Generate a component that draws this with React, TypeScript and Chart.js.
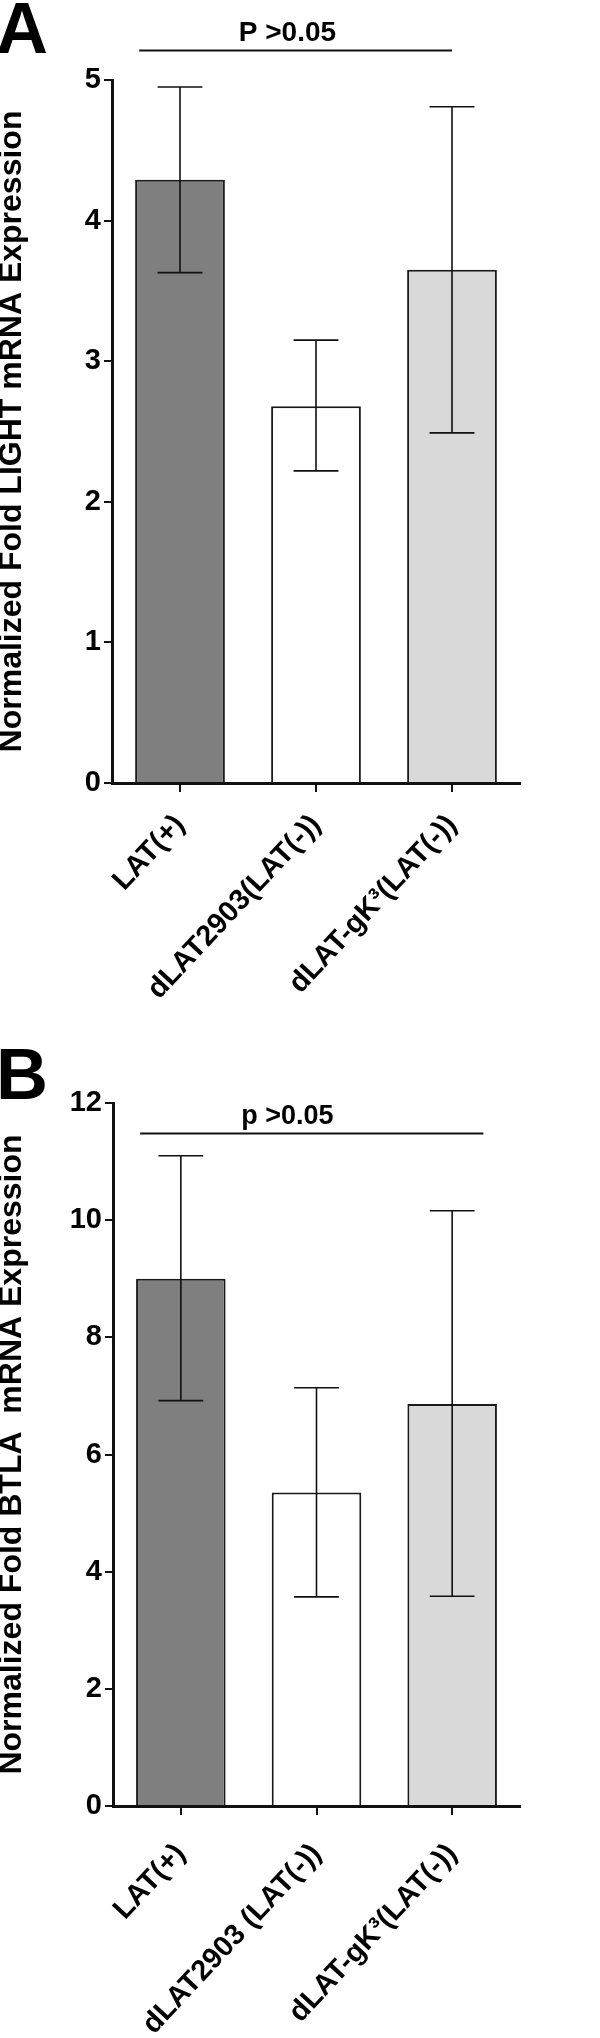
import React, { useEffect, useRef } from "react";
import { Chart, registerables } from "chart.js";

Chart.register(...registerables);

// ---------- Panel A data ----------
const categoriesA = ["LAT(+)", "dLAT2903(LAT(-))", "dLAT-gK\u00B3(LAT(-))"];
const meansA = [4.29, 2.68, 3.65];
const errLowA = [3.63, 2.22, 2.49];
const errHighA = [4.95, 3.15, 4.81];
const yTicksA = [0, 1, 2, 3, 4, 5];
const titleA = "Normalized Fold LIGHT mRNA Expression";
const sigTextA = "P >0.05";

// ---------- Panel B data ----------
const categoriesB = ["LAT(+)", "dLAT2903 (LAT(-))", "dLAT-gK\u00B3(LAT(-))"];
const meansB = [9.0, 5.35, 6.86];
const errLowB = [6.92, 3.57, 3.58];
const errHighB = [11.1, 7.14, 10.16];
const yTicksB = [0, 2, 4, 6, 8, 10, 12];
const titleB = "Normalized Fold BTLA  mRNA Expression";
const sigTextB = "p >0.05";

const barColors = ["#7f7f7f", "#ffffff", "#d9d9d9"];
const FONT = "'Liberation Sans', Arial, Helvetica, sans-serif";

type PanelCfg = {
  letter: string;
  categories: string[];
  means: number[];
  low: number[];
  high: number[];
  yTicks: number[];
  title: string;
  sigText: string;
  sigFrom: number; // category index units
  sigTo: number;
  sigLevel: number; // data value
  sigTextAt: number;
  canvasH: number;
  top: number;
  bottom: number;
  left: number;
  right: number;
  letterBaseline: number;
  sigFont: number;
  labelPad: number;
};

function makePlugin(cfg: PanelCfg) {
  return {
    id: "extras" + cfg.letter,
    afterDatasetsDraw(chart: any) {
      const ctx = chart.ctx;
      const meta = chart.getDatasetMeta(0);
      const y = chart.scales.y;
      ctx.save();
      ctx.strokeStyle = "#111";
      ctx.lineWidth = 1.6;
      meta.data.forEach((bar: any, i: number) => {
        const cx = bar.x;
        const half = bar.width / 4;
        const yl = y.getPixelForValue(cfg.low[i]);
        const yh = y.getPixelForValue(cfg.high[i]);
        ctx.beginPath();
        ctx.moveTo(cx, yl);
        ctx.lineTo(cx, yh);
        ctx.moveTo(cx - half, yl);
        ctx.lineTo(cx + half, yl);
        ctx.moveTo(cx - half, yh);
        ctx.lineTo(cx + half, yh);
        ctx.stroke();
      });
      ctx.restore();
    },
    afterDraw(chart: any) {
      const ctx = chart.ctx;
      const x = chart.scales.x;
      const y = chart.scales.y;
      const step = x.getPixelForValue(1) - x.getPixelForValue(0);
      const x0 = x.getPixelForValue(0);
      ctx.save();
      // significance line
      const ly = y.getPixelForValue(cfg.sigLevel);
      ctx.strokeStyle = "#111";
      ctx.lineWidth = 2;
      ctx.beginPath();
      ctx.moveTo(x0 + cfg.sigFrom * step, ly);
      ctx.lineTo(x0 + cfg.sigTo * step, ly);
      ctx.stroke();
      ctx.fillStyle = "#000";
      ctx.font = `bold ${cfg.sigFont}px ${FONT}`;
      ctx.textAlign = "center";
      ctx.textBaseline = "alphabetic";
      ctx.fillText(cfg.sigText, x0 + cfg.sigTextAt * step, ly - 9);
      // panel letter
      ctx.font = `bold 72px ${FONT}`;
      ctx.textAlign = "left";
      ctx.fillText(cfg.letter, -4, cfg.letterBaseline);
      ctx.restore();
    },
  };
}

function Panel({ cfg }: { cfg: PanelCfg }) {
  const ref = useRef<HTMLCanvasElement | null>(null);
  useEffect(() => {
    if (!ref.current) return;
    const chart = new Chart(ref.current, {
      type: "bar",
      data: {
        labels: cfg.categories,
        datasets: [
          {
            data: cfg.means,
            backgroundColor: barColors,
            borderColor: "#1a1a1a",
            borderWidth: 2,
            barPercentage: 0.66,
            categoryPercentage: 1,
          },
        ],
      },
      options: {
        responsive: false,
        animation: false,
        layout: { padding: { top: cfg.top, right: 600 - cfg.right, left: 0, bottom: 0 } },
        plugins: { legend: { display: false }, tooltip: { enabled: false } },
        scales: {
          x: {
            offset: true,
            grid: {
              offset: false,
              drawOnChartArea: false,
              drawTicks: true,
              tickLength: 9,
              color: "#111",
              lineWidth: 2,
            },
            border: { display: true, color: "#111", width: 3 },
            ticks: {
              autoSkip: false,
              minRotation: 47,
              maxRotation: 47,
              padding: cfg.labelPad,
              color: "#000",
              font: { family: FONT, size: 29, weight: "bold" },
            },
            afterFit: (s: any) => {
              s.height = cfg.canvasH - cfg.bottom;
            },
          },
          y: {
            min: 0,
            max: cfg.yTicks[cfg.yTicks.length - 1],
            afterBuildTicks: (s: any) => {
              s.ticks = cfg.yTicks.map((v) => ({ value: v }));
            },
            grid: {
              drawOnChartArea: false,
              drawTicks: true,
              tickLength: 8,
              color: "#111",
              lineWidth: 2,
            },
            border: { display: true, color: "#111", width: 3 },
            ticks: {
              padding: 3,
              color: "#000",
              font: { family: FONT, size: 29, weight: "bold" },
            },
            title: {
              display: true,
              text: cfg.title,
              color: "#000",
              padding: 0,
              font: { family: FONT, size: 32, weight: "bold", lineHeight: 0.78 },
            },
            afterFit: (s: any) => {
              s.width = cfg.left;
            },
          },
        },
      },
      plugins: [makePlugin(cfg)],
    } as any);
    return () => chart.destroy();
  }, []);
  return (
    <canvas
      ref={ref}
      width={600}
      height={cfg.canvasH}
      style={{ display: "block", width: 600, height: cfg.canvasH }}
    />
  );
}

const panelA: PanelCfg = {
  letter: "A",
  categories: categoriesA,
  means: meansA,
  low: errLowA,
  high: errHighA,
  yTicks: yTicksA,
  title: titleA,
  sigText: sigTextA,
  sigFrom: -0.3,
  sigTo: 2.0,
  sigLevel: 5.21,
  sigTextAt: 0.79,
  canvasH: 1030,
  top: 80,
  bottom: 783,
  left: 112,
  right: 520,
  letterBaseline: 53,
  sigFont: 28,
  labelPad: 16,
};

const panelB: PanelCfg = {
  letter: "B",
  categories: categoriesB,
  means: meansB,
  low: errLowB,
  high: errHighB,
  yTicks: yTicksB,
  title: titleB,
  sigText: sigTextB,
  sigFrom: -0.3,
  sigTo: 2.23,
  sigLevel: 11.48,
  sigTextAt: 0.785,
  canvasH: 1008,
  top: 73,
  bottom: 776,
  left: 113,
  right: 520,
  letterBaseline: 69,
  sigFont: 27,
  labelPad: 22,
};

export default function App() {
  return (
    <div style={{ position: "absolute", left: 0, top: 0, width: 600, background: "#fff" }}>
      <Panel cfg={panelA} />
      <Panel cfg={panelB} />
    </div>
  );
}
